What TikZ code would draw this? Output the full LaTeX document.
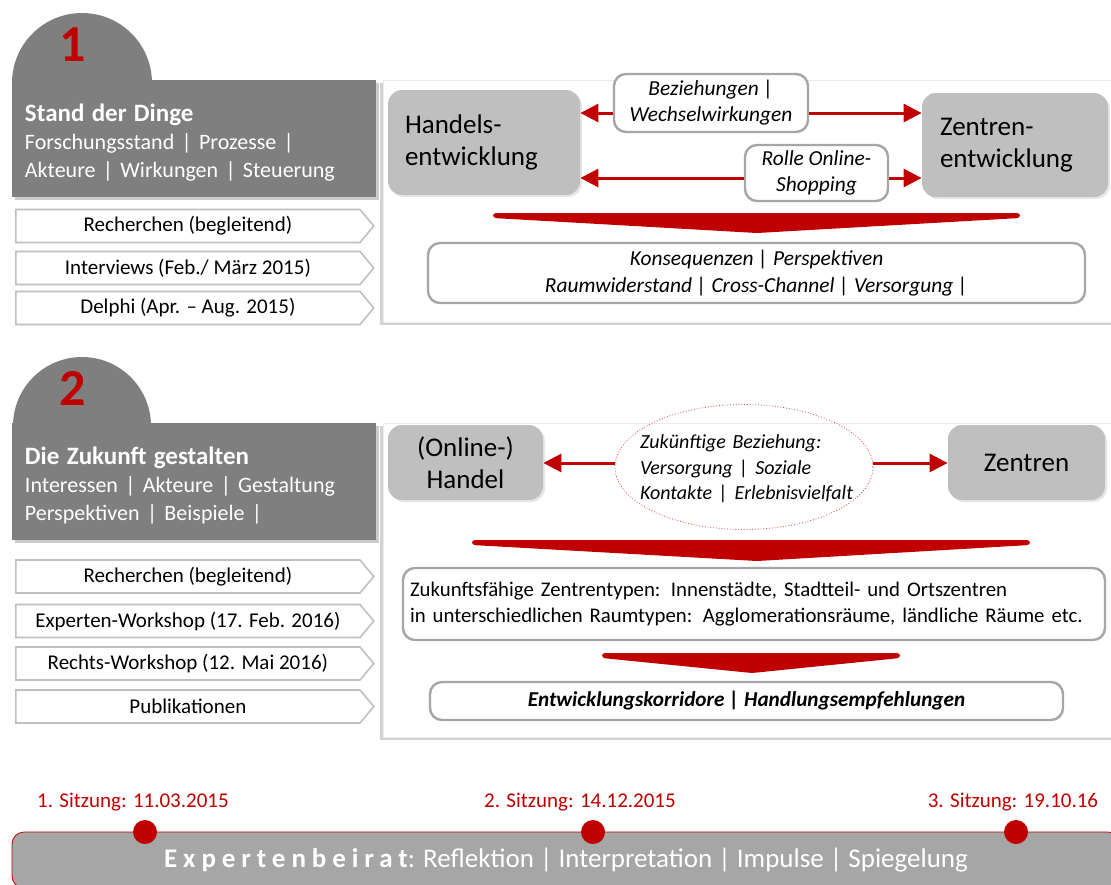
\documentclass[tikz,border=0pt]{standalone}
\usepackage{fontspec}
\setmainfont{Carlito}
\usetikzlibrary{positioning,shapes.geometric,shapes.symbols,shadows,arrows.meta}
\definecolor{dunkelrot}{HTML}{C00000}
\definecolor{dunkelgrau}{HTML}{7F7F7F}
\definecolor{hellgrau}{HTML}{BFBFBF}
\definecolor{rahmengrau}{HTML}{A6A6A6}
\definecolor{balkengrau}{HTML}{A6A6A6}
\begin{document}
\begin{tikzpicture}[x=0.5pt,y=-0.5pt,
	kopf/.style={fill=dunkelgrau,text=white,minimum width=182pt,minimum height=58.5pt,text width=169pt,text height=12.5pt,align=left,inner xsep=6.5pt,font=\fontsize{11}{14}\selectfont,drop shadow={shadow xshift=1.5pt,shadow yshift=-1.5pt,opacity=.4}},
	etikett/.style={signal,signal to=east,signal pointer angle=100,draw=hellgrau,line width=.8pt,fill=white,minimum width=179pt,minimum height=16.5pt,inner sep=0pt,font=\fontsize{10.5}{12}\selectfont,anchor=west},
	tafel/.style={fill=white,draw=black!8,drop shadow={shadow xshift=-1.5pt,shadow yshift=-1.5pt,opacity=.35}},
	grau/.style={fill=hellgrau,rounded corners=7pt,inner sep=0pt,font=\fontsize{13.5}{16}\selectfont,drop shadow={shadow xshift=1pt,shadow yshift=-1pt,opacity=.2}},
	weiss/.style={fill=white,draw=rahmengrau,line width=1.2pt,rounded corners=6pt,inner sep=0pt,font=\fontsize{10.7}{13}\selectfont\itshape},
	pfeil/.style={dunkelrot,line width=1.5pt,-{Triangle[length=9pt,width=9pt]}},
	keil/.style={fill=dunkelrot,rounded corners=1.5pt},
	zahl/.style={text=dunkelrot,font=\fontsize{26}{26}\selectfont\bfseries},
	punkt/.style={circle,fill=dunkelrot,minimum size=12pt,inner sep=0pt},
	sitzung/.style={text=dunkelrot,font=\fontsize{10.5}{12}\selectfont,inner sep=0pt}]
	\fill[white] (0,0) rectangle (1111,884);
	\useasboundingbox (0,0) rectangle (1111,884);
	\fill[dunkelgrau] (12,83) arc[start angle=180,end angle=0,radius=35pt] -- cycle;
	\node[zahl] (eins) at (73,45) {1};
	\node[kopf] (stand) at (194,138.5) {{\fontsize{12.5}{15}\selectfont\bfseries Stand der Dinge}\\Forschungsstand | Prozesse |\\Akteure | Wirkungen | Steuerung};
	\foreach \y/\t/\n in {226/{Recherchen (begleitend)}/recherche,268/{Interviews (Feb./ März 2015)}/interviews,308/{Delphi (Apr. – Aug. 2015)}/delphi}
	\node[etikett] (\n) at (15,\y) {\t};
	\path[tafel] (383,80) rectangle (1125,322);
	\node[grau,minimum width=96pt,minimum height=52.5pt,text width=79pt,align=left] (handels) at (484,142.5) {Handels-\\entwicklung};
	\node[grau,minimum width=93pt,minimum height=52pt,text width=75pt,align=left] (zentren) at (1015,145) {Zentren-\\entwicklung};
	\node[weiss,minimum width=97pt,minimum height=29pt,align=center] (beziehung) at (711,103) {Beziehungen |\\Wechselwirkungen};
	\node[weiss,minimum width=71.5pt,minimum height=28pt,align=center] (rolle) at (816.5,173) {Rolle Online-\\Shopping};
	\draw[pfeil] ([yshift=-5pt]beziehung.west) -- ([yshift=-5pt]beziehung.west -| handels.east);
	\draw[pfeil] ([yshift=-5pt]beziehung.east) -- ([yshift=-5pt]beziehung.east -| zentren.west);
	\draw[pfeil] ([yshift=-2.5pt]rolle.west) -- ([yshift=-2.5pt]rolle.west -| handels.east);
	\draw[pfeil] ([yshift=-2.5pt]rolle.east) -- ([yshift=-2.5pt]rolle.east -| zentren.west);
	\fill[keil] (493,213) -- (1020,213) -- (1020,218) -- (757,233) -- (493,218) -- cycle;
	\node[weiss,minimum width=328.5pt,minimum height=30pt,align=center,font=\fontsize{10.7}{13.5}\selectfont\itshape] (konsequenz) at (756.5,273) {Konsequenzen | Perspektiven\\Raumwiderstand | Cross-Channel | Versorgung |};
	\fill[dunkelgrau] (13,426) arc[start angle=180,end angle=0,radius=34.5pt] -- cycle;
	\node[zahl] (zwei) at (73,388) {2};
	\node[kopf] (zukunft) at (194,481.5) {{\fontsize{12.5}{15}\selectfont\bfseries Die Zukunft gestalten}\\Interessen | Akteure | Gestaltung\\Perspektiven | Beispiele |};
	\foreach \y/\t/\n in {576.5/{Recherchen (begleitend)}/recherchez,621/{Experten-Workshop (17. Feb. 2016)}/experten,663.5/{Rechts-Workshop (12. Mai 2016)}/rechts,706.5/{Publikationen}/publikationen}
	\node[etikett] (\n) at (15,\y) {\t};
	\path[tafel] (383,423) rectangle (1125,737);
	\node[grau,minimum width=77.5pt,minimum height=37.5pt,align=center] (onlinehandel) at (465.5,462.5) {(Online-)\\Handel};
	\node[grau,minimum width=78.5pt,minimum height=37.5pt] (zentrenz) at (1026.5,462.5) {Zentren};
	\node[ellipse,draw=dunkelrot!75,densely dotted,line width=.4pt,minimum width=129pt,minimum height=62.5pt,inner sep=0pt] (ellipse) at (744,467) {};
	\node[text width=111pt,align=left,inner sep=0pt,font=\fontsize{10}{12.75}\selectfont\itshape] (beziehungz) at (751,469) {Zukünftige Beziehung:\\Versorgung | Soziale\\Kontakte | Erlebnisvielfalt};
	\draw[pfeil] ([yshift=2pt]ellipse.west) -- ([yshift=2pt]ellipse.west -| onlinehandel.east);
	\draw[pfeil] ([yshift=2pt]ellipse.east) -- ([yshift=2pt]ellipse.east -| zentrenz.west);
	\fill[keil] (472,540) -- (1030,540) -- (1030,545) -- (757,561) -- (472,545) -- cycle;
	\node[weiss,minimum width=351pt,minimum height=36pt,text width=344pt,align=left,font=\fontsize{10.4}{13}\selectfont] (typen) at (754,604) {Zukunftsfähige Zentrentypen: Innenstädte, Stadtteil- und Ortszentren\\in unterschiedlichen Raumtypen: Agglomerationsräume, ländliche Räume etc.};
	\fill[keil] (602,653) -- (900,653) -- (900,658) -- (752,673) -- (602,658) -- cycle;
	\node[weiss,minimum width=316.5pt,minimum height=19pt,font=\fontsize{10.6}{13}\selectfont\bfseries\itshape] (korridore) at (746.5,701) {Entwicklungskorridore | Handlungsempfehlungen};
	\node[fill=balkengrau,draw=dunkelrot,rounded corners=6pt,minimum width=554pt,minimum height=28pt,text=white,font=\fontsize{13.5}{15}\selectfont] (beirat) at (566,860) {{\bfseries\addfontfeature{LetterSpace=22}Expertenbeirat}: Reflektion | Interpretation | Impulse | Spiegelung};
	\foreach \n/\x in {1/145,2/593,3/1016}
	\node[punkt] (punkt\n) at (\x,832) {};
	\node[sitzung,above=4pt of punkt1,xshift=-6pt] (sitzung1) {1. Sitzung: 11.03.2015};
	\node[sitzung,above=4pt of punkt2,xshift=-6.5pt] (sitzung2) {2. Sitzung: 14.12.2015};
	\node[sitzung,above=4pt of punkt3,xshift=-1.5pt] (sitzung3) {3. Sitzung: 19.10.16};
\end{tikzpicture}
\end{document}
